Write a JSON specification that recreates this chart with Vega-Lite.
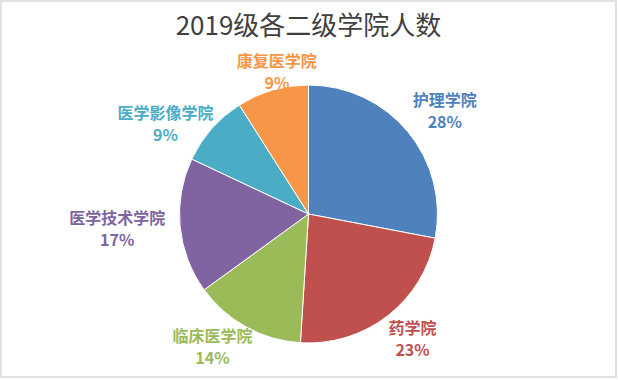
{
  "$schema": "https://vega.github.io/schema/vega-lite/v6.json",
  "width": 615,
  "height": 376,
  "autosize": "none",
  "padding": {"left": 1, "top": 1, "right": 2, "bottom": 3},
  "background": "white",
  "view": {"stroke": "#d9d9d9", "strokeWidth": 1.5},
  "config": {"view": {"stroke": "#d9d9d9", "strokeWidth": 1.5}},
  "title": {
    "text": "2019级各二级学院人数",
    "font": "Noto Sans CJK SC",
    "fontSize": 26,
    "fontWeight": "normal",
    "color": "#3f3f3f",
    "anchor": "middle",
    "baseline": "alphabetic",
    "offset": -60,
    "frame": "group"
  },
  "data": {
    "values": [
      {"idx": 1, "name": "护理学院", "value": 28, "label": "护理学院\n28%"},
      {"idx": 2, "name": "药学院", "value": 23, "label": "药学院\n23%"},
      {"idx": 3, "name": "临床医学院", "value": 14, "label": "临床医学院\n14%"},
      {"idx": 4, "name": "医学技术学院", "value": 17, "label": "医学技术学院\n17%"},
      {"idx": 5, "name": "医学影像学院", "value": 9, "label": "医学影像学院\n9%"},
      {"idx": 6, "name": "康复医学院", "value": 9, "label": "康复医学院\n9%"}
    ]
  },
  "encoding": {
    "theta": {"field": "value", "type": "quantitative", "stack": true},
    "order": {"field": "idx", "type": "quantitative"},
    "color": {
      "field": "name",
      "type": "nominal",
      "legend": null,
      "scale": {
        "domain": ["护理学院", "药学院", "临床医学院", "医学技术学院", "医学影像学院", "康复医学院"],
        "range": ["#4F81BD", "#C0504D", "#9BBB59", "#8064A2", "#4BACC6", "#F79646"]
      }
    }
  },
  "layer": [
    {"mark": {"type": "arc", "outerRadius": 129, "stroke": "white", "strokeWidth": 1, "yOffset": 25}},
    {"mark": {"type": "text", "radius": 160, "yOffset": 25, "dx": 13, "dy": -11, "lineBreak": "\n", "lineHeight": 22, "font": "Noto Sans CJK SC", "fontSize": 16, "fontWeight": "bold", "align": "center", "baseline": "middle"},
     "encoding": {"text": {"condition": {"test": "datum.name === '护理学院'", "field": "label", "type": "nominal"}, "value": ""}}},
    {"mark": {"type": "text", "radius": 160, "yOffset": 25, "dx": 6, "dy": -11, "lineBreak": "\n", "lineHeight": 22, "font": "Noto Sans CJK SC", "fontSize": 16, "fontWeight": "bold", "align": "center", "baseline": "middle"},
     "encoding": {"text": {"condition": {"test": "datum.name === '药学院'", "field": "label", "type": "nominal"}, "value": ""}}},
    {"mark": {"type": "text", "radius": 160, "yOffset": 25, "dx": -19, "dy": -17, "lineBreak": "\n", "lineHeight": 22, "font": "Noto Sans CJK SC", "fontSize": 16, "fontWeight": "bold", "align": "center", "baseline": "middle"},
     "encoding": {"text": {"condition": {"test": "datum.name === '临床医学院'", "field": "label", "type": "nominal"}, "value": ""}}},
    {"mark": {"type": "text", "radius": 160, "yOffset": 25, "dx": -32, "dy": -10, "lineBreak": "\n", "lineHeight": 22, "font": "Noto Sans CJK SC", "fontSize": 16, "fontWeight": "bold", "align": "center", "baseline": "middle"},
     "encoding": {"text": {"condition": {"test": "datum.name === '医学技术学院'", "field": "label", "type": "nominal"}, "value": ""}}},
    {"mark": {"type": "text", "radius": 160, "yOffset": 25, "dx": -23, "dy": 6, "lineBreak": "\n", "lineHeight": 22, "font": "Noto Sans CJK SC", "fontSize": 16, "fontWeight": "bold", "align": "center", "baseline": "middle"},
     "encoding": {"text": {"condition": {"test": "datum.name === '医学影像学院'", "field": "label", "type": "nominal"}, "value": ""}}},
    {"mark": {"type": "text", "radius": 160, "yOffset": 25, "dx": 13, "dy": 2, "lineBreak": "\n", "lineHeight": 22, "font": "Noto Sans CJK SC", "fontSize": 16, "fontWeight": "bold", "align": "center", "baseline": "middle"},
     "encoding": {"text": {"condition": {"test": "datum.name === '康复医学院'", "field": "label", "type": "nominal"}, "value": ""}}}
  ]
}
